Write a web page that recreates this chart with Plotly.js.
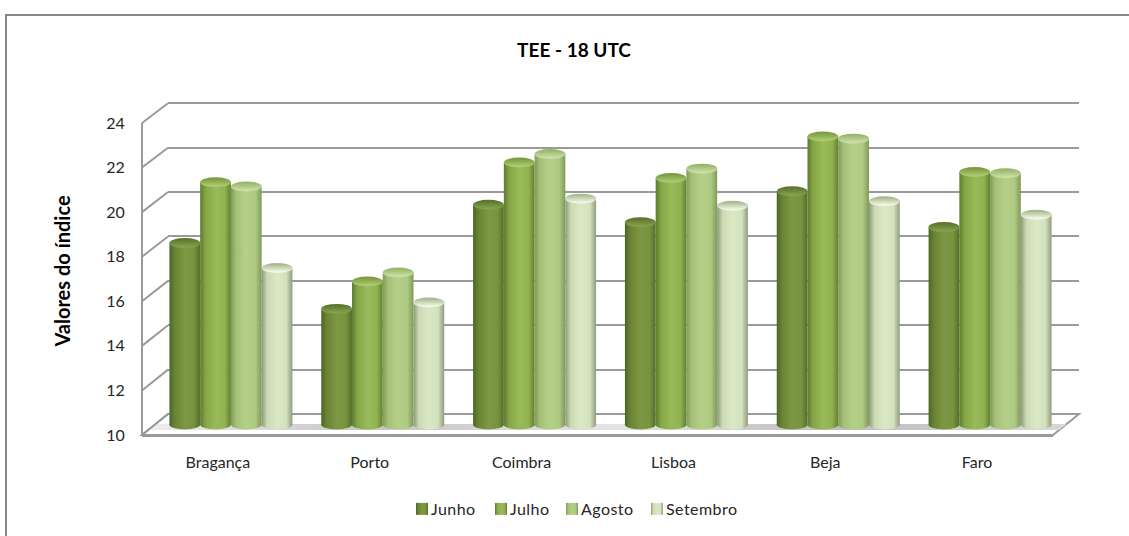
<!DOCTYPE html>
<html>
<head>
<meta charset="utf-8">
<script src="https://cdn.plot.ly/plotly-3.0.1.min.js"></script>
<style>
html,body{margin:0;padding:0;background:#fff;overflow:hidden}
.xtick text,.legendtext{letter-spacing:.45px}
</style>
</head>
<body>
<div id="chart" style="width:1129px;height:536px"></div>
<script>
var categories = ["Bragança", "Porto", "Coimbra", "Lisboa", "Beja", "Faro"];
var Junho = [18.16, 15.2, 19.89, 19.1, 20.49, 18.88];
var Julho = [20.9, 16.43, 21.79, 21.09, 22.96, 21.36];
var Agosto = [20.71, 16.84, 22.17, 21.51, 22.86, 21.3];
var Setembro = [17.04, 15.49, 20.16, 19.84, 20.04, 19.44];
var seriesNames = ["Junho", "Julho", "Agosto", "Setembro"];
var seriesValues = [Junho, Julho, Agosto, Setembro];
var axisTicks = [10, 12, 14, 16, 18, 20, 22, 24];
var legendTextLeft = [431, 510, 581, 666];

var W = 1129, H = 536, FONT = "Lato, 'Open Sans', sans-serif";
var GRID = "#9a9a9a";
var px = function (x) { return x / W; };
var py = function (y) { return 1 - y / H; };

// geometry of the three depth planes
var back = { l: 168, r: 1079, t: 103.3, b: 414 };
var front = { l: 142, r: 1053, t: 123, b: 435 };
var mid = { l: 155, r: 1066, t: 102.2, b: 435.6 };
var perUnit = (front.b - front.t) / 14;
var backUnit = (back.b - back.t) / 14;
var yFront = function (v) { return front.b - (v - 10) * perUnit; };
var yBack = function (v) { return back.b - (v - 10) * backUnit; };

// bar body and cap colours per series
var bodyStops = [
  ["#4e6526", "#6a8435", "#7d9743", "#78933f", "#556d2a"],
  ["#5f7a30", "#86a647", "#99ba57", "#92b352", "#63802f"],
  ["#7f9a5a", "#a6c276", "#b5cf88", "#aec981", "#80995a"],
  ["#8c9a7c", "#ccdab4", "#dbe8c6", "#d3e1bd", "#8f9c80"]
];
var capStops = [
  ["#5c7630", "#84a04a"],
  ["#7c9c40", "#abc971"],
  ["#98b76b", "#cbdda5"],
  ["#aabb92", "#f0f6e0"]
];

var barGap = 0.19, groupW = 1 - barGap, barW = groupW / 4;
var capH = 0.225;

var shapes = [];
function line(x0, y0, x1, y1, color, w) {
  shapes.push({ type: "line", xref: "paper", yref: "paper", x0: px(x0), y0: py(y0), x1: px(x1), y1: py(y1),
    line: { color: color || GRID, width: w || 2 }, layer: "below" });
}
function para(yTop, yBot, fill, lw) {
  var xAt = function (y) { return front.l + (front.b - y) * 26 / 21; };
  var p = function (x, y) { return px(x) + "," + py(y); };
  var d = "M" + p(xAt(yBot), yBot) + " L" + p(xAt(yBot) + 911, yBot) + " L" + p(xAt(yTop) + 911, yTop) + " L" + p(xAt(yTop), yTop) + " Z";
  shapes.push({ type: "path", xref: "paper", yref: "paper", path: d, fillcolor: fill,
    line: lw ? { color: GRID, width: lw } : { width: 0 }, layer: "below" });
}
// chart frame (only top and left reach into the picture)
line(6, 15, W + 5, 15, "#868686", 2);
line(6, 14, 6, H + 5, "#868686", 2);
// floor
para(back.b, front.b, "#ffffff", 2);
var floorBandIndex = shapes.length;
para(424, 430, "#c9c9c9", 0);
// side wall: diagonals and front upright
axisTicks.forEach(function (v) { line(front.l, yFront(v), back.l, yBack(v)); });
line(front.l, front.t, front.l, front.b);

// cylinder bottoms (below bars) and tops (above bars), placed through the bar axes
var gradientTargets = [];
seriesValues.forEach(function (vals, s) {
  vals.forEach(function (v, i) {
    var x0 = i - groupW / 2 + s * barW, x1 = x0 + barW;
    gradientTargets.push({ idx: shapes.length, grad: "body" + s });
    shapes.push({ type: "circle", xref: "x3", yref: "y3", x0: x0, x1: x1, y0: 10 - capH, y1: 10 + capH,
      fillcolor: bodyStops[s][2], line: { width: 0 }, layer: "below" });
  });
});
seriesValues.forEach(function (vals, s) {
  vals.forEach(function (v, i) {
    var x0 = i - groupW / 2 + s * barW, x1 = x0 + barW;
    gradientTargets.push({ idx: shapes.length, grad: "cap" + s });
    shapes.push({ type: "circle", xref: "x3", yref: "y3", x0: x0, x1: x1, y0: v - capH, y1: v + capH,
      fillcolor: capStops[s][0], line: { width: 0 }, layer: "above" });
  });
});

var traces = [
  { type: "scatter", mode: "none", x: categories, y: categories.map(function () { return null; }), xaxis: "x", yaxis: "y", showlegend: false, hoverinfo: "skip" },
  { type: "scatter", mode: "none", x: categories, y: categories.map(function () { return null; }), xaxis: "x2", yaxis: "y2", showlegend: false, hoverinfo: "skip" }
];
seriesValues.forEach(function (vals, s) {
  traces.push({
    type: "bar", name: seriesNames[s], x: categories, base: 10,
    y: vals.map(function (v) { return v - 10; }),
    xaxis: "x3", yaxis: "y3",
    marker: { color: bodyStops[s][2], line: { width: 0 } }
  });
});

var hiddenX = { type: "category", categoryorder: "array", categoryarray: categories, range: [-0.5, 5.5], showgrid: false, zeroline: false, showticklabels: false, ticks: "", showline: false, fixedrange: true };
var layout = {
  width: W, height: H, autosize: false,
  margin: { l: 0, r: 0, t: 0, b: 0 },
  paper_bgcolor: "#ffffff", plot_bgcolor: "rgba(0,0,0,0)",
  font: { family: FONT, size: 16, color: "#262626" },
  title: { text: "<b>TEE - 18 UTC</b>", x: px(574), y: py(50), xanchor: "center", yanchor: "middle", font: { family: FONT, size: 19, color: "#000000" } },
  barmode: "group", bargap: barGap, bargroupgap: 0,
  // back wall: gridlines
  xaxis: Object.assign({}, hiddenX, { domain: [px(back.l), px(back.r)], anchor: "y" }),
  yaxis: { domain: [py(back.b + backUnit * 0.1), py(back.t - backUnit * 0.1)], range: [9.9, 24.1], tickvals: axisTicks, showticklabels: false, ticks: "", showline: false, zeroline: false, showgrid: true, gridcolor: GRID, gridwidth: 2, anchor: "x", fixedrange: true },
  // front plane: axes, labels
  xaxis2: Object.assign({}, hiddenX, { domain: [px(front.l), px(front.r)], anchor: "y2", showticklabels: true, ticks: "outside", ticklen: 12, tickcolor: "rgba(0,0,0,0)", showline: true, linecolor: GRID, linewidth: 2, tickfont: { family: FONT, size: 16, color: "#262626" } }),
  yaxis2: { domain: [py(front.b), py(front.t)], range: [10, 24], tickvals: axisTicks, ticktext: axisTicks.map(String), showgrid: false, zeroline: false, ticks: "outside", ticklen: 13, tickcolor: "rgba(0,0,0,0)", showline: false, anchor: "x2", fixedrange: true,
    tickfont: { family: FONT, size: 16, color: "#262626" },
    title: { text: "<b>Valores do índice</b>", standoff: 30, font: { family: FONT, size: 20, color: "#000000" } } },
  // middle plane: bars
  xaxis3: Object.assign({}, hiddenX, { domain: [px(mid.l), px(mid.r)], anchor: "y3" }),
  yaxis3: { domain: [py(mid.b), py(mid.t)], range: [9.5, 24.5], showgrid: false, zeroline: false, showticklabels: false, ticks: "", showline: false, anchor: "x3", fixedrange: true },
  legend: { orientation: "h", x: px(579), xanchor: "center", y: py(509), yanchor: "middle", bgcolor: "rgba(0,0,0,0)", font: { family: FONT, size: 16, color: "#262626" }, itemwidth: 30, traceorder: "normal" },
  shapes: shapes
};

Plotly.newPlot("chart", traces, layout, { displayModeBar: false, staticPlot: true }).then(function (gd) {
  var NS = "http://www.w3.org/2000/svg";
  var svg = gd.querySelector(".main-svg");
  var defs = svg.querySelector("defs") || svg.insertBefore(document.createElementNS(NS, "defs"), svg.firstChild);
  function grad(id, stops, offs, vertical) {
    var g = document.createElementNS(NS, "linearGradient");
    g.setAttribute("id", id);
    g.setAttribute("x1", "0"); g.setAttribute("y1", "0");
    g.setAttribute("x2", vertical ? "0" : "1"); g.setAttribute("y2", vertical ? "1" : "0");
    stops.forEach(function (c, i) {
      var st = document.createElementNS(NS, "stop");
      st.setAttribute("offset", offs[i]);
      st.setAttribute("stop-color", c);
      g.appendChild(st);
    });
    defs.appendChild(g);
  }
  bodyStops.forEach(function (st, s) { grad("body" + s, st, [0, 0.18, 0.5, 0.8, 1]); });
  capStops.forEach(function (st, s) { grad("cap" + s, st, [0.15, 0.85], true); });
  grad("floorBand", ["#ededed", "#c4c4c4", "#e4e4e4", "#bdbdbd", "#d8d8d8"], [0, 0.25, 0.5, 0.75, 1]);

  gd.querySelectorAll(".barlayer .trace").forEach(function (tr, s) {
    tr.querySelectorAll(".point path").forEach(function (p) { p.style.fill = "url(#body" + s + ")"; });
  });
  gradientTargets.forEach(function (t) {
    var p = gd.querySelector('.shapelayer path[data-index="' + t.idx + '"]');
    if (p) p.style.fill = "url(#" + t.grad + ")";
  });
  var fb = gd.querySelector('.shapelayer path[data-index="' + floorBandIndex + '"]');
  if (fb) fb.style.fill = "url(#floorBand)";

  // the axis title sits a little above the axis centre in the original
  var yt = gd.querySelector(".g-y2title");
  if (yt) yt.setAttribute("transform", "translate(0,-8)");

  // legend: tighter spacing between swatch and text, as in the original
  var lg = gd.querySelector(".legend");
  if (lg) lg.querySelectorAll("[clip-path]").forEach(function (n) { n.removeAttribute("clip-path"); });
  gd.querySelectorAll(".legend .traces").forEach(function (tr, s) {
    var pts = tr.querySelector(".legendpoints");
    tr.querySelectorAll(".legendpoints path").forEach(function (p) { p.style.fill = "url(#body" + s + ")"; });
    var text = tr.querySelector(".legendtext");
    var m = /translate\(\s*([-\d.]+)[ ,]+([-\d.]+)/.exec(tr.getAttribute("transform") || "");
    if (m && text) {
      var dx = legendTextLeft[s] - text.getBoundingClientRect().left;
      tr.setAttribute("transform", "translate(" + (parseFloat(m[1]) + dx) + "," + m[2] + ")");
      if (pts) {
        var r = pts.getBoundingClientRect();
        var shift = legendTextLeft[s] - 9 - (r.left + r.width / 2);
        var cur = pts.getAttribute("transform") || "";
        pts.setAttribute("transform", "translate(" + shift + ",0) " + cur);
      }
    }
  });
});
</script>
</body>
</html>
